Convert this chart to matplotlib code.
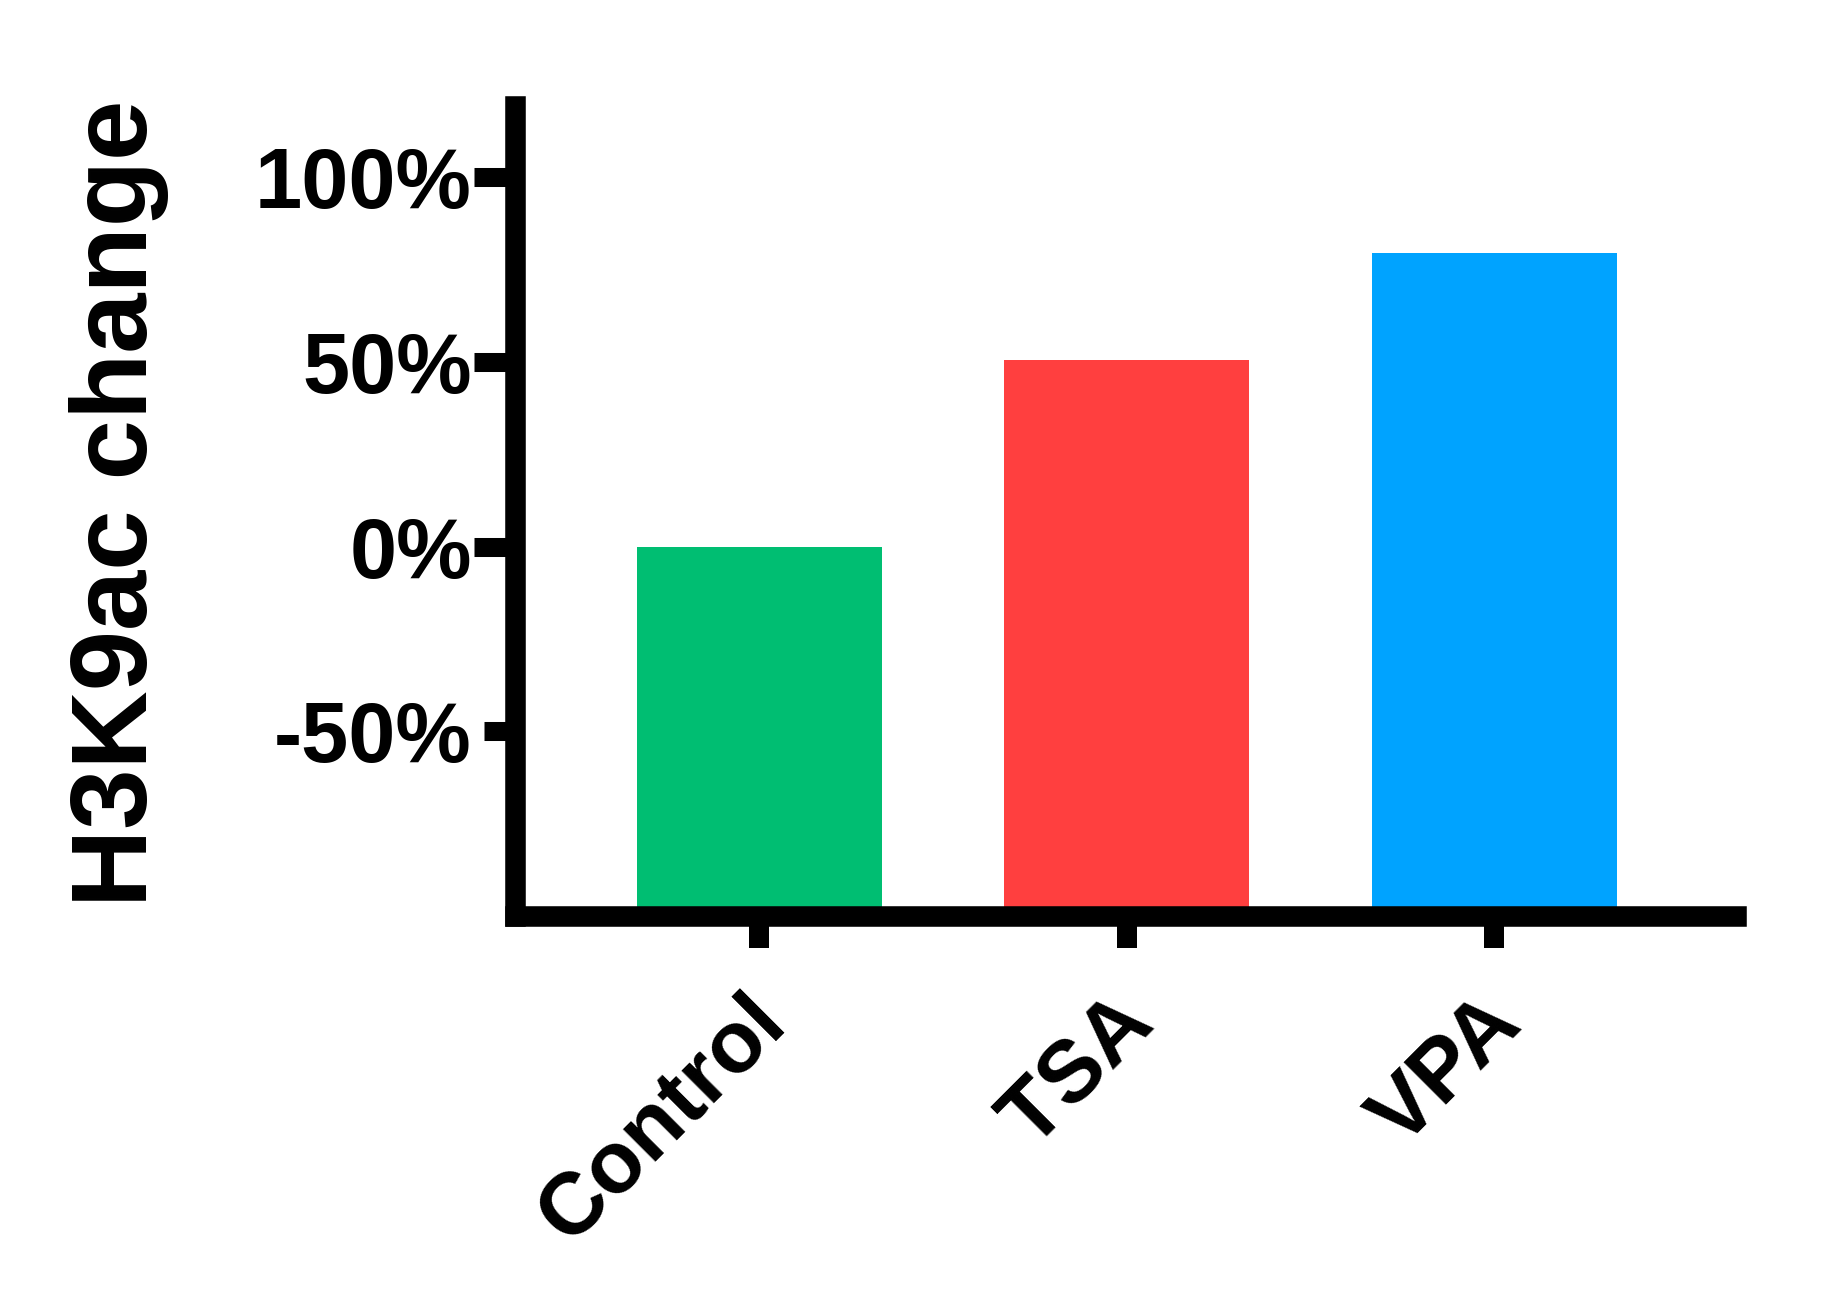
import numpy as np
import matplotlib
matplotlib.use("Agg")
import matplotlib.pyplot as plt
import matplotlib.transforms as mtransforms

categories = ["Control", "TSA", "VPA"]
values = [0.0, 50.6, 79.5]
colors = ["#00BE72", "#FF3F3F", "#00A3FF"]
yticks = [-50, 0, 50, 100]
yticklabels = ["-50%", "0%", "50%", "100%"]
ylabel = "H3K9ac change"
baseline = -100

plt.rcParams["font.family"] = ["Liberation Sans", "DejaVu Sans"]
plt.rcParams["font.weight"] = "bold"

fig = plt.figure(figsize=(18.31, 12.97), dpi=100)
ax = fig.add_axes([0.2815, 0.2938, 0.9481 - 0.2815, 0.9183 - 0.2938])

x = np.arange(len(categories))
heights = np.array(values) - baseline
ax.bar(x, heights, bottom=baseline, width=0.667, color=colors, zorder=1)

ax.set_xlim(-0.663, 2.658)
ax.set_ylim(baseline, 119.3)

for side in ["top", "right"]:
    ax.spines[side].set_visible(False)
for side in ["left", "bottom"]:
    ax.spines[side].set_linewidth(14.8)
    ax.spines[side].set_capstyle("projecting")
    ax.spines[side].set_zorder(3)

ax.set_yticks(yticks)
ax.set_yticklabels(yticklabels, fontsize=61, fontweight="bold")
ax.tick_params(axis="y", length=29.5, width=13.7, pad=2, direction="out")
# the -50% tick is drawn a little shorter in the original
ax.yaxis.get_major_ticks()[0].tick1line.set_markersize(22.3)

ax.set_xticks(x)
ax.set_xticklabels(categories, fontsize=63, fontweight="bold",
                   rotation=45, ha="right", va="baseline",
                   rotation_mode="anchor")
ax.tick_params(axis="x", length=23, width=14.4, pad=56, direction="out")
offset = mtransforms.ScaledTranslation(0.3, 0, fig.dpi_scale_trans)
for lab in ax.get_xticklabels():
    lab.set_transform(lab.get_transform() + offset)

ax.set_ylabel(ylabel, fontsize=78, fontweight="bold", va="center")
ax.yaxis.set_label_coords(-0.325, 0.51)

fig.savefig("out.png", dpi=100, facecolor="white")
